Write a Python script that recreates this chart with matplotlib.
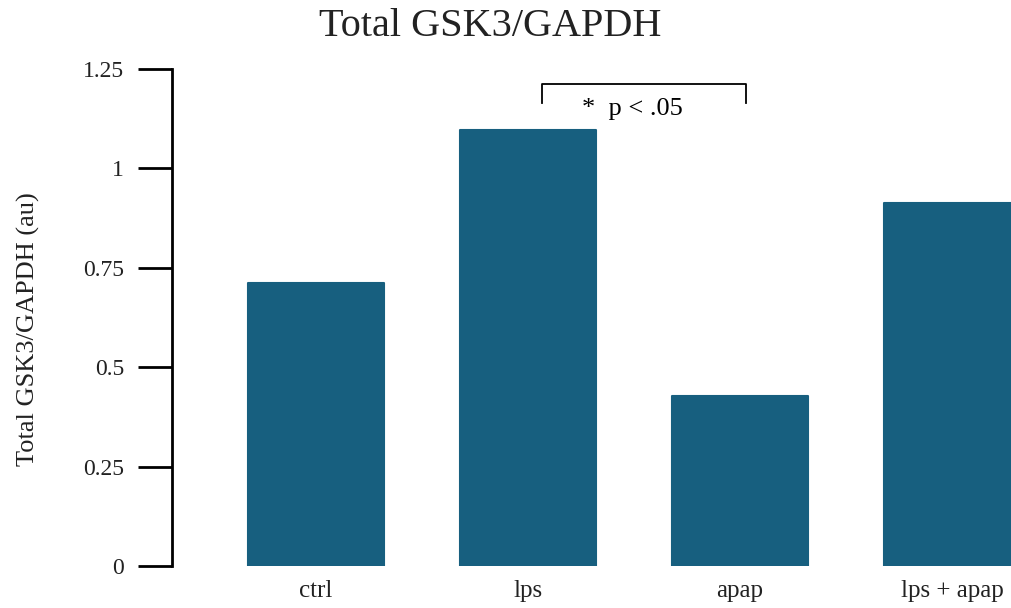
import matplotlib.pyplot as plt

plt.rcParams['font.family'] = ['Liberation Serif', 'DejaVu Serif']

categories = ["ctrl", "lps", "apap", "lps + apap"]
values = [0.712, 1.097, 0.428, 0.913]
yticks = [0, 0.25, 0.5, 0.75, 1, 1.25]
yticklabels = ["0", "0.25", "0.5", "0.75", "1", "1.25"]

barColor = "#175f7f"
textColor = "#222222"

fig = plt.figure(figsize=(10.12, 6.08), dpi=100)
ax = fig.add_axes([0.17, 0.069, 0.83, 0.8174])

x = list(range(len(categories)))
ax.bar(x, values, width=0.64, color=barColor, edgecolor=barColor,
       linewidth=1.5, joinstyle="round")

ax.set_xlim(-0.68, 3.283)
ax.set_ylim(0, 1.25)

ax.set_yticks(yticks)
ax.set_yticklabels(yticklabels, fontsize=17, color=textColor)
ax.set_xticks(x)
ax.set_xticklabels(categories, fontsize=18, color=textColor)

ax.tick_params(axis="y", length=24.5, width=2, direction="out", pad=10)
ax.tick_params(axis="x", length=0, pad=10)

for s in ["top", "right", "bottom"]:
    ax.spines[s].set_visible(False)
ax.spines["left"].set_linewidth(2)

ax.set_ylabel("Total GSK3/GAPDH (au)", fontsize=19, color=textColor)
ax.yaxis.set_label_coords(-0.157, 0.477)

fig.text(490 / 1012, 1 - 26 / 608, "Total GSK3/GAPDH", fontsize=29,
         ha="center", va="center", color=textColor)

# significance bracket between lps and apap
bx0, bx1 = 1.066, 2.028
ytop, ybot = 1.212, 1.165
ax.plot([bx0, bx0, bx1, bx1], [ybot, ytop, ytop, ybot], color="black",
        linewidth=1.3, clip_on=False)
ax.text(1.494, 1.150, "*  p < .05", fontsize=19,
        ha="center", va="center", color="black")

fig.savefig("out.png", dpi=100)
